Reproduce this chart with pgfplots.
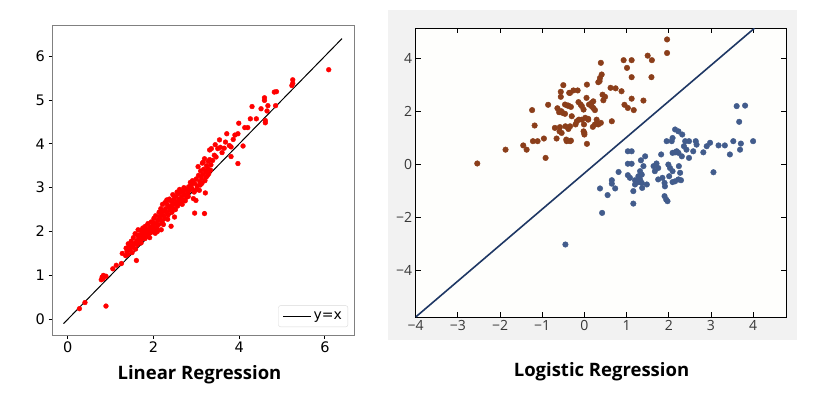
\documentclass[border=0pt]{standalone}
\usepackage{pgfplots}
\pgfplotsset{compat=1.18}
\usepackage{fontspec}
\setmainfont{DejaVu Sans}
\newfontfamily\osans{Open Sans}

\definecolor{brownpt}{RGB}{139,62,26}
\definecolor{bluept}{RGB}{66,92,140}
\definecolor{navy}{RGB}{30,55,100}
\definecolor{panelgray}{RGB}{242,242,242}
\definecolor{framegray}{RGB}{128,128,128}
\definecolor{bgwhite}{RGB}{254,254,252}
\definecolor{ticktext}{RGB}{55,55,55}

\begin{document}
\begin{tikzpicture}[x=1pt,y=1pt]
\path[use as bounding box] (0,0) rectangle (828,405);
\fill[panelgray] (388,65) rectangle (797,395);

% --- linear regression ---
\begin{axis}[at={(52pt,70pt)}, anchor=south west,
  width=302pt, height=310pt, scale only axis,
  xmin=-0.37, xmax=6.68, ymin=-0.36, ymax=6.71,
  xtick={0,2,4,6}, ytick={0,1,2,3,4,5,6},
  axis line style={framegray, line width=0.8pt},
  tick align=outside, tick pos=left, major tick length=3.5pt,
  tick style={black, line width=0.8pt},
  ticklabel style={font=\fontsize{14.5}{15}\selectfont},
  /pgf/number format/assume math mode=true,
  legend style={at={(1,0)}, anchor=south east, xshift=-6pt, yshift=8pt,
    draw=black!15, rounded corners=2pt, font=\fontsize{14}{15}\selectfont,
    inner xsep=4pt, inner ysep=4pt},
  legend image code/.code={\draw[#1] (0pt,0pt) -- (28pt,0pt);},
  legend cell align=left]
\addplot[only marks, mark=*, mark size=2.4pt, color=red, forget plot] table {
0.27 0.24
0.40 0.38
0.89 0.30
0.80 0.96
0.82 0.92
0.83 1.00
0.89 0.98
0.78 0.90
1.05 1.15
1.13 1.23
1.25 1.27
1.27 1.50
1.35 1.45
1.38 1.55
1.40 1.48
1.42 1.62
1.45 1.58
1.47 1.68
1.50 1.52
1.52 1.64
1.55 1.72
1.58 1.60
1.60 1.34
1.60 1.78
1.62 1.70
1.64 2.04
1.65 1.85
1.67 1.76
1.70 1.92
1.72 1.82
1.74 1.95
1.76 1.88
1.78 2.00
1.80 1.84
1.82 1.96
1.84 2.05
1.86 1.90
1.88 2.02
1.90 1.96
1.92 2.10
1.94 1.98
1.96 2.06
1.98 2.14
2.00 2.02
2.00 2.20
2.02 2.10
2.04 1.96
2.06 2.18
2.08 2.08
2.10 2.26
2.12 2.16
2.14 2.34
2.16 2.28
2.18 2.04
2.18 2.40
2.20 2.22
2.22 2.46
2.24 2.36
2.26 2.30
2.28 2.52
2.30 2.44
2.32 2.62
2.34 2.38
2.36 2.56
2.38 2.48
2.40 2.70
2.41 2.12
2.42 2.58
2.44 2.66
2.46 2.52
2.48 2.74
2.49 2.33
2.50 2.62
2.52 2.80
2.54 2.68
2.56 2.58
2.58 2.86
2.60 2.74
2.62 2.64
2.64 2.90
2.66 2.80
2.68 2.72
2.70 2.92
2.72 2.84
2.74 2.70
2.76 2.96
2.80 2.88
2.82 3.02
2.84 2.94
2.88 3.06
2.90 2.98
2.93 2.75
2.96 2.42
2.96 3.10
2.99 2.71
3.00 3.20
3.02 3.04
3.05 3.28
3.07 2.94
3.08 3.14
3.10 3.38
3.12 3.22
3.14 3.56
3.15 3.30
3.17 3.42
3.19 2.41
3.19 3.66
3.20 3.16
3.21 2.88
3.22 3.36
3.24 3.50
3.26 3.28
3.27 3.43
3.28 3.60
3.31 3.64
3.31 3.86
3.33 3.40
3.35 3.89
3.42 3.74
3.46 3.70
3.50 3.89
3.54 4.09
3.60 3.80
3.65 3.90
3.71 4.23
3.77 3.96
3.81 3.93
3.81 3.71
3.86 4.10
3.97 4.23
3.97 3.55
3.99 4.47
4.09 3.95
4.13 4.37
4.20 4.37
4.26 4.57
4.30 4.85
4.40 4.57
4.51 4.80
4.59 5.05
4.59 4.99
4.61 4.53
4.61 4.48
4.67 4.87
4.65 4.75
4.82 5.18
4.87 5.19
4.85 4.87
5.25 5.46
5.25 5.38
5.23 5.33
6.09 5.69
1.36 1.62
1.41 1.72
1.48 1.78
1.53 1.86
1.57 1.95
1.63 1.92
1.69 2.02
1.71 1.74
1.75 2.08
1.81 2.12
1.87 2.18
1.91 1.86
1.95 2.22
2.01 2.30
2.05 2.36
2.09 2.00
2.13 2.44
2.17 2.52
2.21 2.62
2.23 2.16
2.27 2.66
2.31 2.72
2.33 2.28
2.37 2.74
2.43 2.44
2.45 2.84
2.51 2.50
2.55 2.90
2.59 2.64
2.61 2.96
2.67 2.62
2.71 3.00
2.77 2.78
2.81 2.80
2.86 3.12
2.91 3.16
2.95 2.90
3.01 2.96
3.04 3.48
3.09 3.06
3.13 3.10
3.16 3.58
3.23 3.24
3.29 3.32
3.34 3.52
3.38 3.62
3.44 3.98
3.56 3.92
3.68 4.04
3.90 4.20
};
\addplot[black, line width=1pt] coordinates {(-0.1,-0.1) (6.4,6.4)};
\addlegendentry{y=x}
\end{axis}

% --- logistic regression ---
\begin{axis}[at={(415.7pt,88pt)}, anchor=south west,
  width=370.3pt, height=288.7pt, scale only axis,
  xmin=-4, xmax=4.78, ymin=-5.74, ymax=5.13,
  xtick={-4,-3,-2,-1,0,1,2,3,4}, ytick={-4,-2,0,2,4},
  xticklabels={−4,−3,−2,−1,0,1,2,3,4},
  yticklabels={−4,−2,0,2,4},
  tick align=inside, tick pos=both, major tick length=5pt,
  axis line style={black, line width=1pt},
  tick style={black, line width=0.8pt},
  ticklabel style={font=\osans\fontsize{14}{15}\selectfont, text=ticktext},
  axis background/.style={fill=bgwhite}]
\addplot[only marks, mark=*, mark size=2.8pt, color=brownpt] table {
-2.54 0.04
-1.87 0.56
-1.45 0.72
-1.37 0.56
-1.24 2.05
-1.18 1.47
-1.22 0.88
-1.11 0.88
-0.96 0.98
-0.92 0.25
-0.86 2.25
-0.70 1.38
-0.66 0.98
-0.64 2.12
-0.58 1.41
-0.56 2.74
-0.56 2.55
-0.50 2.99
-0.55 2.01
-0.46 1.91
-0.54 1.19
-0.45 1.44
-0.42 0.88
-0.34 0.88
-0.40 2.22
-0.32 2.17
-0.34 2.70
-0.26 2.79
-0.16 2.79
-0.21 1.51
-0.30 1.82
-0.13 1.69
-0.14 2.35
-0.06 2.20
-0.02 2.07
-0.01 1.51
0.00 1.19
0.00 1.13
0.06 3.01
0.05 2.51
0.06 0.78
0.09 1.69
0.11 2.26
0.17 2.20
0.20 1.42
0.21 2.38
0.25 2.05
0.29 1.69
0.33 1.51
0.33 3.10
0.37 3.26
0.41 3.39
0.39 3.83
0.43 2.63
0.45 2.42
0.49 2.55
0.39 1.57
0.65 1.63
0.62 2.89
0.74 2.87
0.88 2.76
0.93 3.93
1.01 3.64
1.12 3.93
1.12 3.29
0.95 2.25
1.03 2.13
1.12 2.48
1.17 2.05
1.40 2.41
1.50 4.10
1.60 3.93
1.59 3.29
1.96 4.71
1.96 4.20
-0.60 1.97
-0.51 1.94
-0.59 1.25
-0.36 2.70
-0.46 2.26
-0.38 2.22
-0.09 2.26
0.17 2.32
0.21 2.13
-0.34 1.44
-0.38 1.34
-0.18 1.63
-0.06 1.69
0.02 1.76
0.09 1.72
-0.02 1.25
0.25 1.51
0.36 3.14
-0.32 0.90
-0.43 0.94
};
\addplot[only marks, mark=*, mark size=2.8pt, color=bluept] table {
-0.45 -3.01
0.42 -1.82
0.37 -0.90
0.55 -1.15
0.65 -0.59
0.65 -0.72
0.73 -0.90
0.81 -0.28
1.03 0.50
1.12 0.50
1.03 0.03
1.12 0.03
1.03 -0.40
1.08 -0.50
1.16 -1.00
1.16 -1.47
1.20 -0.59
1.28 -0.66
1.32 -0.56
1.36 -0.69
1.28 -0.44
1.36 -0.38
1.32 -0.25
1.40 -0.06
1.44 0.31
1.48 -0.75
1.37 -0.88
1.20 -0.75
1.34 0.16
1.67 -0.25
1.64 -0.06
1.71 0.04
1.75 -0.13
1.82 0.38
1.75 -0.56
1.85 -0.50
1.90 -0.69
1.91 -0.82
1.90 -1.19
1.94 -1.32
1.97 -1.38
1.99 0.00
2.03 -0.13
2.09 -0.25
2.01 -0.44
2.09 -0.66
2.15 -0.63
2.23 -0.56
2.29 -0.59
1.95 0.88
2.07 0.88
2.09 1.00
2.15 1.32
2.23 1.25
2.15 0.46
2.19 0.50
2.32 1.13
2.39 0.88
2.36 0.69
2.42 0.56
2.48 0.88
2.48 0.25
2.58 0.50
2.66 0.75
2.64 0.88
2.82 0.46
2.90 0.69
2.98 0.82
3.06 -0.29
3.18 0.72
3.33 0.72
3.45 0.38
3.53 0.88
3.69 0.56
3.67 1.61
3.61 2.20
3.81 2.22
3.71 0.79
4.00 0.88
2.09 0.44
2.23 0.44
2.31 0.31
2.24 -0.06
2.27 -0.31
};
\addplot[navy, line width=1.6pt] coordinates {(-4,-5.74) (4.03,5.13)};
\end{axis}

\node[font=\osans\bfseries\fontsize{18.5}{20}\selectfont] at (199.5,30) {Linear Regression};
\node[font=\osans\bfseries\fontsize{18.5}{20}\selectfont] at (601.5,33) {Logistic Regression};
\end{tikzpicture}
\end{document}
